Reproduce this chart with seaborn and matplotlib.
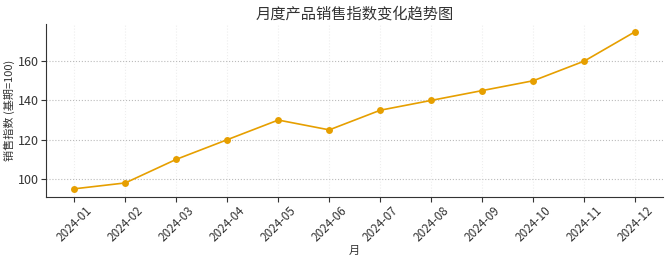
import matplotlib
matplotlib.use("Agg")
import matplotlib.pyplot as plt
import seaborn as sns
import pandas as pd

months = ["2024-01", "2024-02", "2024-03", "2024-04", "2024-05", "2024-06",
          "2024-07", "2024-08", "2024-09", "2024-10", "2024-11", "2024-12"]
index_values = [95, 98, 110, 120, 130, 125, 135, 140, 145, 150, 160, 175]

title = "月度产品销售指数变化趋势图"
xlabel = "月"
ylabel = "销售指数 (基期=100)"

sns.set_style("ticks")
plt.rcParams['font.family'] = ['Noto Sans CJK SC', 'DejaVu Sans']

df = pd.DataFrame({"month": months, "value": index_values})

fig, ax = plt.subplots(figsize=(6.7, 2.64), dpi=100)
sns.lineplot(data=df, x="month", y="value", marker="o", color="#E69F00",
             markersize=5, markeredgewidth=0, linewidth=1.2, ax=ax, sort=False)

ax.set_title(title, fontsize=11, color="#333333", pad=4)
ax.set_xlabel(xlabel, fontsize=8, color="#333333", labelpad=1)
ax.set_ylabel(ylabel, fontsize=8, color="#333333", labelpad=2)
ax.set_yticks([100, 120, 140, 160])
ax.tick_params(axis="x", rotation=45, labelsize=8.5, colors="#333333", pad=2)
ax.tick_params(axis="y", labelsize=9, colors="#333333", pad=2)
ax.grid(axis="y", linestyle=":", color="#bbbbbb", linewidth=0.8)
ax.grid(axis="x", linestyle=":", color="#eeeeee", linewidth=0.8)
sns.despine(ax=ax)
for s in ["left", "bottom"]:
    ax.spines[s].set_color("#333333")

fig.subplots_adjust(left=0.069, right=0.99, top=0.91, bottom=0.255)
fig.savefig("out.png", dpi=100)
